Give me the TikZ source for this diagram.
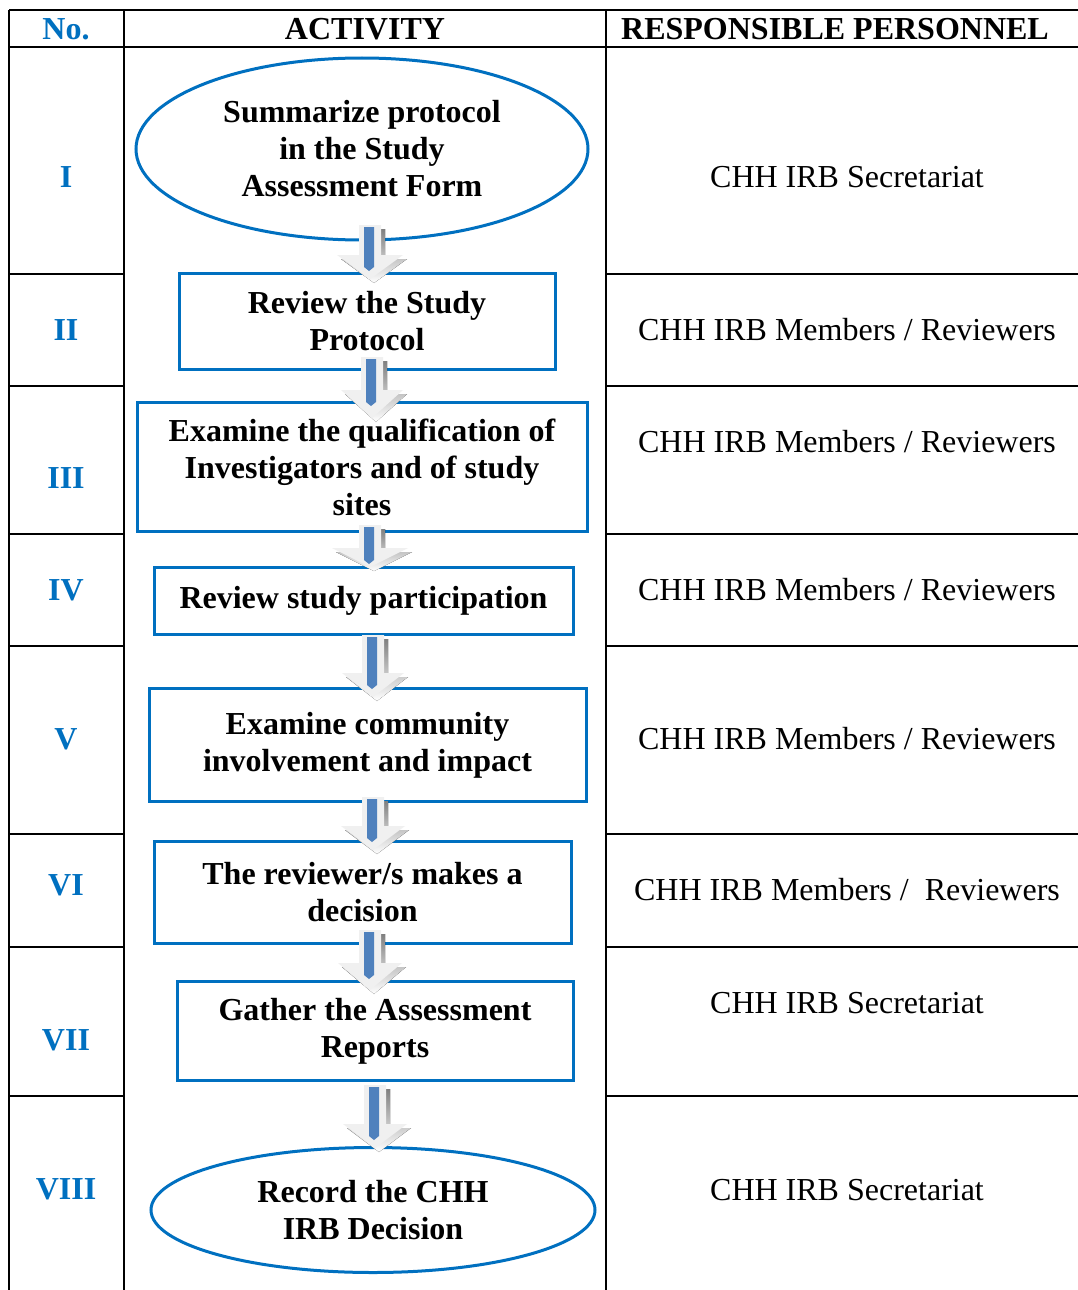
\documentclass[tikz,border=0pt]{standalone}
\usepackage{fontspec}
\setmainfont{Liberation Serif}
\usetikzlibrary{shapes.geometric}
\definecolor{boxblue}{HTML}{0070C0}
\definecolor{barblue}{HTML}{4F81BD}
\definecolor{shade}{HTML}{95A1B2}
\definecolor{body}{HTML}{F0F0F0}
\tikzset{
  tline/.style={line width=2.6pt,black},
  stepbox/.style={draw=boxblue,line width=3pt,fill=white,rectangle,inner sep=0pt,align=center,font=\fontsize{32}{37}\selectfont\bfseries},
  stepoval/.style={draw=boxblue,line width=3pt,fill=white,ellipse,inner sep=0pt,align=center,font=\fontsize{32}{37}\selectfont\bfseries},
  numtxt/.style={text=boxblue,font=\fontsize{32}{37}\selectfont\bfseries},
  perstxt/.style={font=\fontsize{32}{37}\selectfont},
  headtxt/.style={font=\fontsize{32}{37}\selectfont\bfseries},
}
\newcommand\flowarrow[5]{% cx, top, headtop, tip, head half width
  \fill[shade] ({#1-11+4},{#2+4}) -- ({#1+11+4},{#2+4}) -- ({#1+11+4},{#3+4}) -- ({#1+#5+4},{#3+4}) -- ({#1+4},{#4+4}) -- ({#1-#5+4},{#3+4}) -- ({#1-11+4},{#3+4}) -- cycle;
  \fill[body] ({#1-11},{#2}) -- ({#1+11},{#2}) -- ({#1+11},{#3}) -- ({#1+#5},{#3}) -- ({#1},{#4}) -- ({#1-#5},{#3}) -- ({#1-11},{#3}) -- cycle;
  \fill[barblue] ({#1-6},{#2+2}) -- ({#1+4},{#2+2}) -- ({#1+4},{#3+12}) -- ({#1-1},{#3+16}) -- ({#1-6},{#3+12}) -- cycle;
}
\begin{document}
\begin{tikzpicture}[x=1pt,y=-1pt]
\useasboundingbox (0,0) rectangle (1078,1290);
\fill[white] (0,0) rectangle (1078,1290);
% table
\draw[tline] (9,10) -- (1078,10);
\draw[tline] (9,47) -- (1078,47);
\draw[tline] (9,10) -- (9,1290);
\draw[tline] (124,10) -- (124,1290);
\draw[tline] (606,10) -- (606,1290);
\foreach \y in {274,386,534,646,834,947,1096} {
  \draw[tline] (9,\y) -- (124,\y);
  \draw[tline] (606,\y) -- (1078,\y);
}
% header
\node[numtxt] (hno) at (66,29) {No.};
\node[headtxt] (hact) at (365,29) {ACTIVITY};
\node[headtxt] (hres) at (835,29) {RESPONSIBLE PERSONNEL};
% numerals
\node[numtxt] (n1) at (66,177) {I};
\node[numtxt] (n2) at (66,330) {II};
\node[numtxt] (n3) at (66,478) {III};
\node[numtxt] (n4) at (66,590) {IV};
\node[numtxt] (n5) at (66,739) {V};
\node[numtxt] (n6) at (66,885) {VI};
\node[numtxt] (n7) at (66,1040) {VII};
\node[numtxt] (n8) at (66,1189) {VIII};
% personnel
\node[perstxt] (p1) at (847,177) {CHH IRB Secretariat};
\node[perstxt] (p2) at (847,330) {CHH IRB Members / Reviewers};
\node[perstxt] (p3) at (847,442) {CHH IRB Members / Reviewers};
\node[perstxt] (p4) at (847,590) {CHH IRB Members / Reviewers};
\node[perstxt] (p5) at (847,739) {CHH IRB Members / Reviewers};
\node[perstxt] (p6) at (847,890) {CHH IRB Members /\ \ Reviewers};
\node[perstxt] (p7) at (847,1003) {CHH IRB Secretariat};
\node[perstxt] (p8) at (847,1190) {CHH IRB Secretariat};
% steps
\node[stepoval,minimum width=452pt,minimum height=182pt] (s1) at (362,149) {Summarize protocol\\in the Study\\Assessment Form};
\node[stepbox,minimum width=376pt,minimum height=96pt] (s2) at (367,321) {Review the Study\\Protocol};
\node[stepbox,minimum width=450pt,minimum height=129pt] (s3) at (362,467) {Examine the qualification of\\Investigators and of study\\sites};
\node[stepbox,minimum width=419pt,minimum height=67pt] (s4) at (363.5,601) {Review study participation};
\node[stepbox,minimum width=437pt,minimum height=113pt] (s5) at (367.5,745) {Examine community\\involvement and impact};
\node[stepbox,minimum width=417pt,minimum height=102pt] (s6) at (362.5,892) {The reviewer/s makes a\\decision};
\node[stepbox,minimum width=396pt,minimum height=99pt] (s7) at (375,1031) {Gather the Assessment\\Reports};
\node[stepoval,minimum width=444pt,minimum height=125pt] (s8) at (373,1210) {Record the CHH\\IRB Decision};
% arrows
\flowarrow{370}{225}{255}{279}{33}
\flowarrow{372}{357}{390}{418}{31}
\flowarrow{370}{525}{548}{567}{38}
\flowarrow{373}{635}{673}{697}{31}
\flowarrow{373}{797}{826}{850}{32}
\flowarrow{370}{930}{963}{990}{32}
\flowarrow{375}{1085}{1124}{1148}{32}
\end{tikzpicture}
\end{document}
